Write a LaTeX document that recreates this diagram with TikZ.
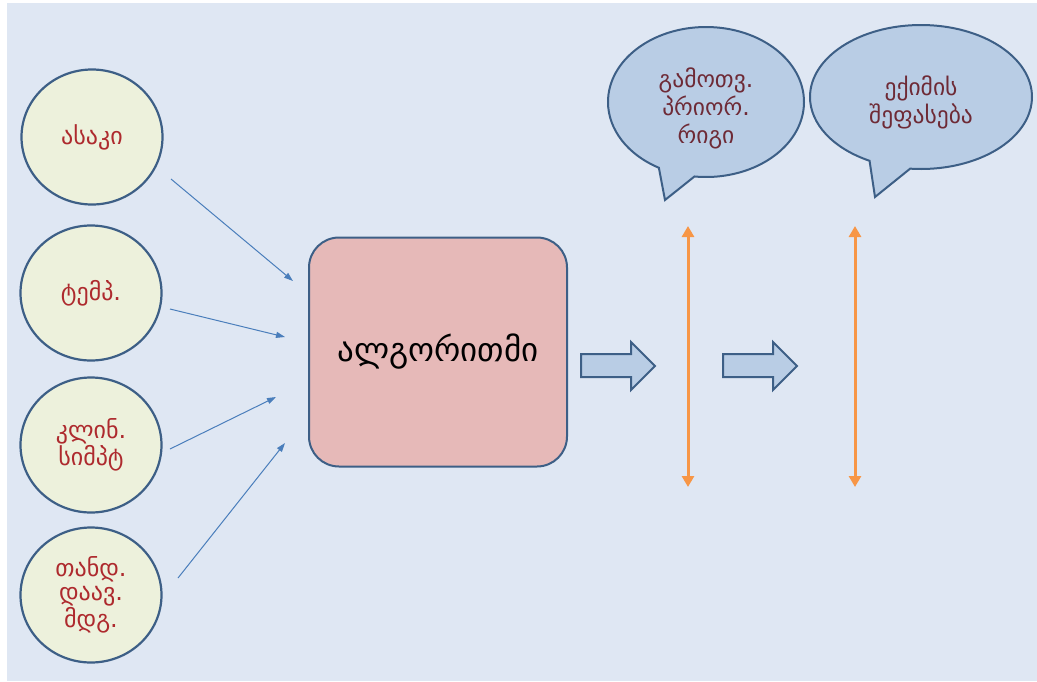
\documentclass[tikz,border=0pt]{standalone}
\usepackage{fontspec}
\setmainfont{DejaVu Sans}
\usetikzlibrary{arrows.meta,shapes.geometric,shapes.callouts}
\definecolor{bgc}{HTML}{DFE7F3}
\definecolor{circfill}{HTML}{EDF1DC}
\definecolor{boxfill}{HTML}{E6B9B8}
\definecolor{bluefill}{HTML}{B9CDE5}
\definecolor{edge}{HTML}{3D5F86}
\definecolor{thin}{HTML}{4A7EBB}
\definecolor{orng}{HTML}{F79646}
\definecolor{redtxt}{HTML}{AE2A2E}
\definecolor{maroon}{HTML}{6E2A36}
\newcommand{\lowered}[2]{\raisebox{#1}[0pt][0pt]{\begin{tabular}{@{}c@{}}#2\end{tabular}}}
\tikzset{
  inbubble/.style={ellipse, draw=edge, line width=2.2pt, fill=circfill, inner sep=0pt,
    minimum width=141pt, minimum height=135pt, align=center, text=redtxt,
    font=\fontsize{24}{24}\selectfont},
  algbox/.style={rectangle, rounded corners=30pt, draw=edge, line width=2pt, fill=boxfill,
    minimum width=258pt, minimum height=229pt, font=\fontsize{33}{38}\selectfont},
  feed/.style={draw=thin, line width=1pt, -{Triangle[length=9pt,width=6pt]}},
  blockarrow/.style={draw=edge, line width=2pt, fill=bluefill, line join=miter},
  axisarrow/.style={draw=orng, line width=3pt, {Triangle[length=11pt,width=12pt]}-{Triangle[length=11pt,width=12pt]}},
  speech/.style={ellipse callout, draw=edge, line width=2pt, fill=bluefill, inner sep=0pt,
    align=center, text=maroon, callout pointer arc=22, font=\fontsize{23.5}{28}\selectfont}
}
\begin{document}
\begin{tikzpicture}[x=1pt,y=-1pt]
\useasboundingbox (0,0) rectangle (1037,681);
\fill[white] (0,0) rectangle (1037,681);
\fill[bgc] (7,3) rectangle (1037,681);

\node[inbubble] (c1) at (92,137) {ასაკი};
\node[inbubble] (c2) at (91,293) {ტემპ.};
\node[inbubble] (c3) at (91,445) {კლინ.\\სიმპტ};
\node[inbubble] (c4) at (91,595) {თანდ.\\დაავ.\\მდგ.};

\node[algbox] (alg) at (438,352) {ალგორითმი};

\coordinate (s1) at (171,179);
\coordinate (e1) at (293,281);
\coordinate (s2) at (170,309);
\coordinate (e2) at (285,337);
\coordinate (s3) at (170,449);
\coordinate (e3) at (276,397);
\coordinate (s4) at (178,578);
\coordinate (e4) at (285,443);
\draw[feed] (s1) -- (e1);
\draw[feed] (s2) -- (e2);
\draw[feed] (s3) -- (e3);
\draw[feed] (s4) -- (e4);

\path[blockarrow] (581,354) -- (631,354) -- (631,342) -- (655,366) -- (631,390) -- (631,377) -- (581,377) -- cycle;
\path[blockarrow] (723,354) -- (773,354) -- (773,342) -- (797,366) -- (773,390) -- (773,377) -- (723,377) -- cycle;

\coordinate (a1t) at (688,226);
\coordinate (a1b) at (688,487);
\coordinate (a2t) at (855,226);
\coordinate (a2b) at (855,487);
\draw[axisarrow] (a1t) -- (a1b);
\draw[axisarrow] (a2t) -- (a2b);

\node[speech, minimum width=196pt, minimum height=150pt, callout absolute pointer={(665,200)}] (b1) at (706,102) {\lowered{-14pt}{გამოთვ.\\პრიორ.\\რიგი}};
\node[speech, minimum width=222pt, minimum height=144pt, callout absolute pointer={(875,197)}] (b2) at (921,97) {\lowered{-13pt}{ექიმის\\შეფასება}};
\end{tikzpicture}
\end{document}
